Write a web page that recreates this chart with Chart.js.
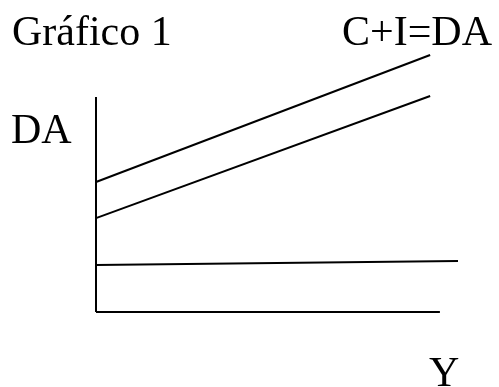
<!DOCTYPE html>
<html>
<head>
<meta charset="utf-8">
<script src="https://cdn.jsdelivr.net/npm/chart.js@4/dist/chart.umd.min.js"></script>
<style>
  body { margin: 0; background: #fff; }
</style>
</head>
<body>
<canvas id="grafico" width="499" height="387"></canvas>
<script>
// values (Y on x, DA on y)
var yIngreso = [0, 9.23];
var ciDA = [5.04, 9.96];       // C+I=DA
var consumo = [3.64, 8.37];    // C
var inversionY = [0, 10];
var inversion = [1.82, 1.98];  // I
var ejeX = [0, 9.5];
var ejeY = [0, 8.33];

function puntos(xs, ys) {
  var out = [];
  for (var i in xs) {
    out.push({x: xs[i], y: ys[i]});
  }
  return out;
}

var linea = {
  showLine: true,
  borderColor: '#000',
  borderWidth: 2,
  pointRadius: 0,
  clip: false
};

var chartdata = {
  datasets: [
    Object.assign({label: 'eje Y', data: puntos(ejeX, [0, 0])}, linea),
    Object.assign({label: 'eje DA', data: puntos([0, 0], ejeY)}, linea),
    Object.assign({label: 'C+I=DA', data: puntos(yIngreso, ciDA)}, linea),
    Object.assign({label: 'C', data: puntos(yIngreso, consumo)}, linea),
    Object.assign({label: 'I', data: puntos(inversionY, inversion)}, linea)
  ]
};

var textos = {
  id: 'textos',
  afterDraw: function(chart) {
    var ctx = chart.ctx;
    ctx.save();
    ctx.fillStyle = '#000';
    ctx.font = '42px "Liberation Serif"';
    ctx.textBaseline = 'alphabetic';
    ctx.fillText('Gráfico 1', 12, 45);
    ctx.fillText('C+I=DA', 342, 45);
    ctx.fillText('DA', 11, 143);
    ctx.fillText('Y', 429, 386);
    ctx.restore();
  }
};

var ctx = document.getElementById('grafico');

var graph = new Chart(ctx, {
  type: 'scatter',
  data: chartdata,
  plugins: [textos],
  options: {
    responsive: false,
    animation: false,
    layout: { padding: { left: 96, right: 41, top: 54, bottom: 75 } },
    plugins: { legend: { display: false }, tooltip: { enabled: false } },
    scales: {
      x: { display: false, min: 0, max: 10 },
      y: { display: false, min: 0, max: 10 }
    }
  }
});
</script>
</body>
</html>
